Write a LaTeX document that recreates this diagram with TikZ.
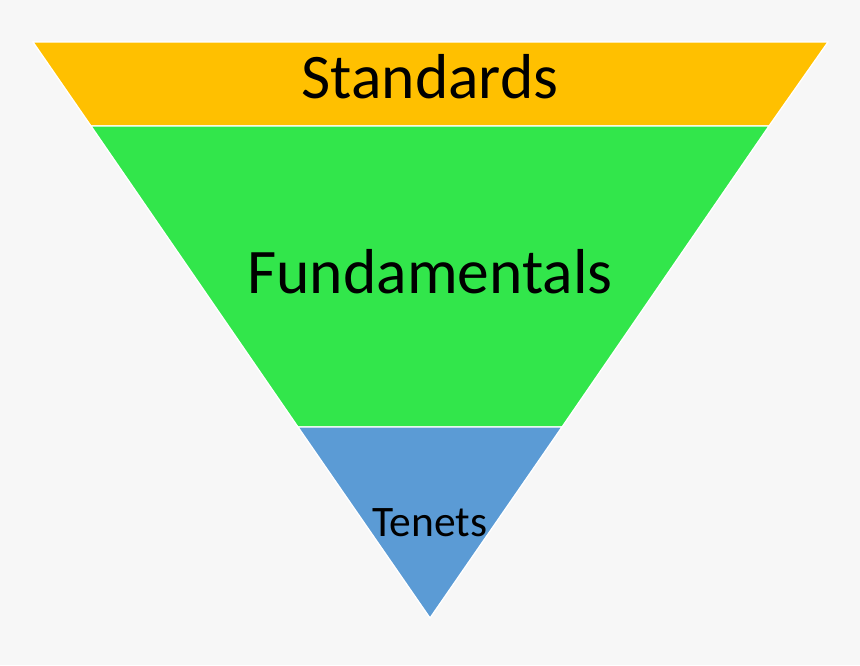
\documentclass[tikz,border=0pt]{standalone}
\usepackage{fontspec}
\setmainfont{Carlito}
\usepackage{xcolor}
\usetikzlibrary{positioning}

\definecolor{bandyellow}{HTML}{FFC000}
\definecolor{bandgreen}{HTML}{32E64B}
\definecolor{bandblue}{HTML}{5B9BD5}
\definecolor{pagegray}{HTML}{F7F7F7}

\tikzset{
  band/.style={draw=white, line width=1.3pt, line join=miter},
  bigtext/.style={font=\fontsize{63.5}{70}\selectfont, anchor=base, inner sep=0pt},
  smalltext/.style={font=\fontsize{43.5}{48}\selectfont, anchor=base, inner sep=0pt}
}

\begin{document}
\begin{tikzpicture}[x=1pt, y=-1pt]
% Page
\fill[pagegray] (0,0) rectangle (860,665);
\useasboundingbox (0,0) rectangle (860,665);

% Corners of the bands
\coordinate (tl) at (33,42);
\coordinate (tr) at (828,42);
\coordinate (ml) at (91,126);
\coordinate (mr) at (769,126);
\coordinate (bl) at (298,427);
\coordinate (br) at (562,427);
\coordinate (apex) at (430,618);

% Bands
\filldraw[band, fill=bandyellow] (tl) -- (tr) -- (mr) -- (ml) -- cycle;
\filldraw[band, fill=bandgreen] (ml) -- (mr) -- (br) -- (bl) -- cycle;
\filldraw[band, fill=bandblue] (bl) -- (br) -- (apex) -- cycle;

% Labels
\node[bigtext] (standards) at (430,98) {Standards};
\node[bigtext] (fundamentals) at (430,293) {Fundamentals};
\node[smalltext] (tenets) at (430,536) {Tenets};
\end{tikzpicture}
\end{document}
